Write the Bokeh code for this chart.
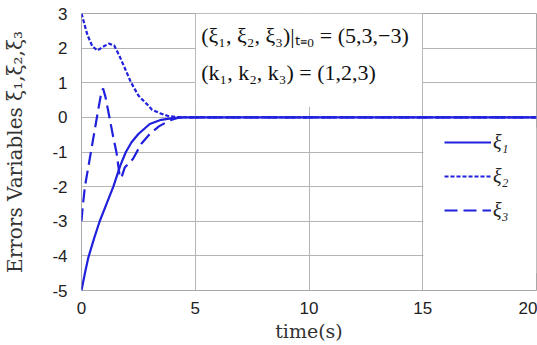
from bokeh.plotting import figure
from bokeh.models import BoxAnnotation, Label, Legend, LegendItem, FixedTicker, Range1d
from bokeh.embed import file_html
from bokeh.resources import INLINE

# ---- data ----
t1 = [0, 0.15, 0.3, 0.55, 0.8, 1.1, 1.4, 1.7, 1.95, 2.2, 2.5, 3.0, 3.5, 4.0, 4.5, 20]
xi1 = [-5, -4.5, -4.05, -3.5, -3.0, -2.5, -2.0, -1.4, -1.0, -0.72, -0.48, -0.19, -0.07, -0.02, 0, 0]

t2 = [0, 0.26, 0.48, 0.7, 0.92, 1.2, 1.43, 1.65, 1.94, 2.16, 2.5, 2.85, 3.1, 3.45, 3.8, 4.2, 4.6, 20]
xi2 = [3, 2.38, 2.05, 1.93, 2.03, 2.13, 2.08, 1.8, 1.37, 1.03, 0.63, 0.4, 0.22, 0.12, 0.04, 0.01, 0, 0]

t3 = [0, 0.05, 0.15, 0.44, 0.73, 0.88, 0.95, 1.05, 1.17, 1.39, 1.54, 1.68, 1.75, 1.9, 2.26, 2.63, 3.0, 3.4, 3.9, 4.3, 20]
xi3 = [-3, -2.6, -2.0, -0.9, 0.2, 0.75, 0.83, 0.6, 0.2, -0.55, -1.02, -1.7, -1.75, -1.45, -1.2, -0.76, -0.48, -0.26, -0.08, 0, 0]

x_ticks = [0, 5, 10, 15, 20]
y_ticks = [-5, -4, -3, -2, -1, 0, 1, 2, 3]
y_tick_labels = ["-5", "-4", "-3", "-2", "-1", "0", "1", "2", "3"]
series_labels = ["ξ₁", "ξ₂", "ξ₃"]
note1 = "(ξ₁, ξ₂, ξ₃)|ₜ₌₀ = (5,3,−3)"
note2 = "(k₁, k₂, k₃) = (1,2,3)"

BLUE = "#2020dd"
SERIF = "Liberation Serif"
SANS = "Liberation Sans"
LABEL_FONT = "DejaVu Serif"

p = figure(width=537, height=345, output_backend="svg", toolbar_location=None,
           x_range=Range1d(0, 20), y_range=Range1d(-5, 3),
           min_border_left=80, min_border_right=1, min_border_top=13, min_border_bottom=55)
p.background_fill_color = "white"
p.border_fill_color = "white"
p.outline_line_color = "#a8a8a8"
p.outline_line_width = 1

p.xaxis.ticker = FixedTicker(ticks=x_ticks)
p.yaxis.ticker = FixedTicker(ticks=y_ticks)
p.yaxis.major_label_overrides = {v: s for v, s in zip(y_ticks, y_tick_labels)}
for ax in (p.xaxis, p.yaxis):
    ax.axis_line_color = None
    ax.major_tick_line_color = None
    ax.minor_tick_line_color = None
    ax.major_label_text_font = SANS
    ax.major_label_text_font_size = "17px"
    ax.major_label_text_color = "#222222"
    ax.axis_label_text_font = LABEL_FONT
    ax.axis_label_text_font_style = "normal"
    ax.axis_label_text_color = "#333333"
p.yaxis.major_label_standoff = 8
p.xaxis.major_label_standoff = 5
p.xaxis.axis_label = "time(s)"
p.xaxis.axis_label_text_font_size = "19px"
p.xaxis.axis_label_standoff = 3
p.yaxis.axis_label = "Errors Variables ξ₁,ξ₂,ξ₃"
p.yaxis.axis_label_text_font_size = "20px"
p.yaxis.axis_label_standoff = 22

p.xgrid.grid_line_color = "#b4b4b4"
p.ygrid.grid_line_color = "#b4b4b4"
p.xgrid.grid_line_width = 1
p.ygrid.grid_line_width = 1

# white panels behind the annotation text and the legend
p.add_layout(BoxAnnotation(left=5.03, right=14.97, bottom=0.3, top=3,
                           fill_color="white", fill_alpha=1, line_color=None, level="underlay"))
p.add_layout(BoxAnnotation(left=15.03, right=20, bottom=-4.5, top=-0.3,
                           fill_color="white", fill_alpha=1, line_color=None, level="underlay"))

r1 = p.line(t1, xi1, line_color=BLUE, line_width=2.2)
r2 = p.line(t2, xi2, line_color=BLUE, line_width=2.2, line_dash="4 2")
r3 = p.line(t3, xi3, line_color=BLUE, line_width=2.2, line_dash="13 6")

legend = Legend(items=[LegendItem(label=series_labels[0], renderers=[r1]),
                       LegendItem(label=series_labels[1], renderers=[r2]),
                       LegendItem(label=series_labels[2], renderers=[r3])],
                location=(363, 63), glyph_width=47, glyph_height=34, label_height=34,
                spacing=0, padding=0, margin=0, label_standoff=2,
                background_fill_alpha=0, border_line_alpha=0,
                label_text_font=SERIF, label_text_font_size="20px",
                label_text_font_style="italic",
                label_text_color="#222222")
p.add_layout(legend)

p.add_layout(Label(x=5.26, y=2.36, text=note1, text_baseline="middle",
                   text_font=SERIF, text_font_size="22px", text_color="#111111"))
p.add_layout(Label(x=5.26, y=1.29, text=note2, text_baseline="middle",
                   text_font=SERIF, text_font_size="22px", text_color="#111111"))

open("out.html", "w").write(file_html(p, INLINE))
